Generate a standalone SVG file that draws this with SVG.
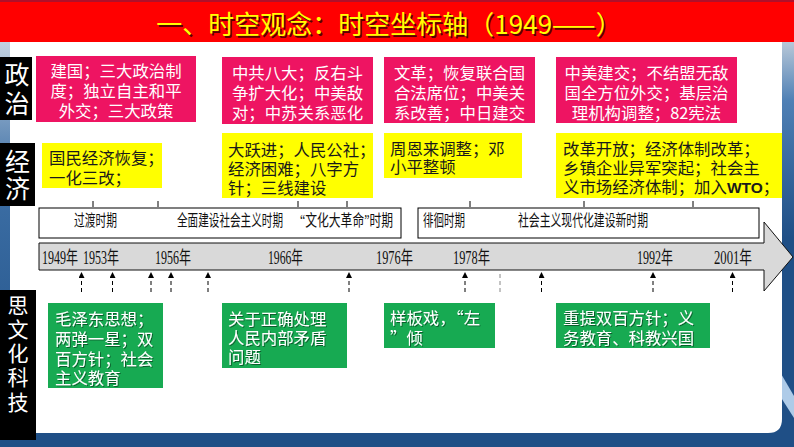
<svg xmlns="http://www.w3.org/2000/svg" width="794" height="447" viewBox="0 0 794 447">
<defs>
<style>
.cjk{font-family:"Noto Sans CJK SC","Noto Sans",sans-serif;}
.box{font-size:16.4px;}
.pink{fill:#ee1462;}
.yellow{fill:#ffff00;}
.green{fill:#17aa52;}
.wt{fill:#ffffff;}
.dk{fill:#1a1a1a;}
.lbl{fill:#000000;}
.lbltxt{fill:#ffffff;font-size:25px;text-anchor:middle;}
.serif{font-family:"Liberation Serif","Noto Sans CJK SC",serif;fill:#111;}
.per{font-size:16px;}
.yr{font-size:18px;}
.dash{stroke:#000;stroke-width:1;stroke-dasharray:4,3;fill:none;}
.tick{stroke:#000;stroke-width:1;}
</style>
<marker id="ah" markerWidth="6" markerHeight="6" refX="6" refY="3" orient="auto" markerUnits="userSpaceOnUse">
<path d="M0,0 L6,3 L0,6 z" fill="#000"/>
</marker>
<linearGradient id="lstrip" x1="0" y1="0" x2="0" y2="1">
<stop offset="0" stop-color="#c3d2e2"/>
<stop offset="0.35" stop-color="#3d6fa5"/>
<stop offset="1" stop-color="#1f4f86"/>
</linearGradient>
<linearGradient id="rstrip" x1="0" y1="0" x2="0" y2="1">
<stop offset="0" stop-color="#b8c8d8"/>
<stop offset="0.15" stop-color="#4f80b5"/>
<stop offset="0.5" stop-color="#1f4f86"/>
<stop offset="1" stop-color="#1f4f86"/>
</linearGradient>
<filter id="sh" x="-5%" y="-5%" width="110%" height="120%">
<feDropShadow dx="1" dy="1" stdDeviation="0.5" flood-color="#000" flood-opacity="0.45"/>
</filter>
</defs>

<!-- frame -->
<rect x="0" y="0" width="794" height="447" fill="#1f4f86"/>
<rect x="0" y="42" width="10" height="392" fill="url(#lstrip)"/>
<rect x="780" y="42" width="14" height="392" fill="url(#rstrip)"/>
<polygon points="780,372 794,396 794,418 780,396" fill="#aecbe8"/>
<path d="M10,42 H782 V419 Q782,433 768,433 H10 Z" fill="#ffffff"/>

<!-- title -->
<g id="title">
<rect x="0" y="0" width="794" height="42" fill="#ff0000"/>
<rect x="0" y="0" width="794" height="2" fill="#b0102a"/>
<text class="cjk" x="390.5" y="35.5" font-size="26" text-anchor="middle" fill="#5a0000">一、时空观念：时空坐标轴（1949——）</text>
<text class="cjk" x="389" y="34" font-size="26" text-anchor="middle" fill="#ffff00">一、时空观念：时空坐标轴（1949——）</text>
</g>

<!-- row labels -->
<g id="label-politics">
<rect class="lbl" x="0" y="57" width="32" height="63"/>
<text class="cjk lbltxt" x="17" y="83.5">政</text>
<text class="cjk lbltxt" x="17" y="112.5">治</text>
</g>
<g id="label-economy">
<rect class="lbl" x="0" y="143" width="35" height="63"/>
<text class="cjk lbltxt" x="17.5" y="171">经</text>
<text class="cjk lbltxt" x="17.5" y="197.5">济</text>
</g>
<g id="label-culture">
<rect class="lbl" x="0" y="290" width="36" height="150"/>
<text class="cjk lbltxt" x="18" y="313" style="font-size:21px">思</text>
<text class="cjk lbltxt" x="18" y="337" style="font-size:21px">文</text>
<text class="cjk lbltxt" x="18" y="361" style="font-size:21px">化</text>
<text class="cjk lbltxt" x="18" y="385" style="font-size:21px">科</text>
<text class="cjk lbltxt" x="18" y="410" style="font-size:21px">技</text>
</g>

<!-- politics boxes -->
<g id="pol-1">
<rect class="pink" x="36" y="56" width="160" height="66"/>
<text class="cjk box wt" text-anchor="middle"><tspan x="116" y="77">建国；三大政治制</tspan><tspan x="116" y="97">度；独立自主和平</tspan><tspan x="116" y="117">外交；三大政策</tspan></text>
</g>
<g id="pol-2">
<rect class="pink" x="222" y="57" width="151" height="67"/>
<text class="cjk box wt" text-anchor="middle"><tspan x="297.5" y="79">中共八大；反右斗</tspan><tspan x="297.5" y="99">争扩大化；中美敌</tspan><tspan x="297.5" y="119">对；中苏关系恶化</tspan></text>
</g>
<g id="pol-3">
<rect class="pink" x="384" y="57" width="151" height="66"/>
<text class="cjk box wt" text-anchor="middle"><tspan x="459.5" y="79">文革；恢复联合国</tspan><tspan x="459.5" y="99">合法席位；中美关</tspan><tspan x="459.5" y="118.5">系改善；中日建交</tspan></text>
</g>
<g id="pol-4">
<rect class="pink" x="556" y="57" width="181" height="66"/>
<text class="cjk box wt" text-anchor="middle"><tspan x="646.5" y="79">中美建交；不结盟无敌</tspan><tspan x="646.5" y="99">国全方位外交；基层治</tspan><tspan x="646.5" y="118.5">理机构调整；82宪法</tspan></text>
</g>

<!-- economy boxes -->
<g id="eco-1">
<rect class="yellow" x="42" y="143" width="120" height="45"/>
<text class="cjk box dk"><tspan x="49" y="164">国民经济恢复；</tspan><tspan x="49" y="184">一化三改；</tspan></text>
</g>
<g id="eco-2">
<rect class="yellow" x="222" y="133" width="151" height="65"/>
<text class="cjk box dk"><tspan x="228" y="156">大跃进；人民公社；</tspan><tspan x="228" y="175">经济困难；八字方</tspan><tspan x="228" y="194">针；三线建设</tspan></text>
</g>
<g id="eco-3">
<rect class="yellow" x="384" y="133" width="138" height="45"/>
<text class="cjk box dk"><tspan x="390" y="155">周恩来调整；邓</tspan><tspan x="390" y="173">小平整顿</tspan></text>
</g>
<g id="eco-4">
<rect class="yellow" x="556" y="133" width="226" height="65"/>
<text class="cjk box dk"><tspan x="563" y="155">改革开放；经济体制改革；</tspan><tspan x="563" y="174">乡镇企业异军突起；社会主</tspan><tspan x="563" y="193">义市场经济体制；加入<tspan font-family="Liberation Sans,sans-serif" font-weight="bold" font-size="15.5">WTO</tspan>；</tspan></text>
</g>

<!-- period boxes -->
<g id="period-1">
<rect x="39" y="208" width="362" height="30" fill="#fff" stroke="#000" stroke-width="1"/>
<text class="serif per" x="74" y="226" textLength="43" lengthAdjust="spacingAndGlyphs">过渡时期</text>
<text class="serif per" x="177" y="226" textLength="106" lengthAdjust="spacingAndGlyphs">全面建设社会主义时期</text>
<text class="serif per" x="300" y="226" textLength="93" lengthAdjust="spacingAndGlyphs">“文化大革命”时期</text>
</g>
<g id="period-2">
<rect x="418" y="208" width="341" height="30" fill="#fff" stroke="#000" stroke-width="1"/>
<text class="serif per" x="423" y="226" textLength="42" lengthAdjust="spacingAndGlyphs">徘徊时期</text>
<text class="serif per" x="518" y="226" textLength="130" lengthAdjust="spacingAndGlyphs">社会主义现代化建设新时期</text>
</g>

<!-- timeline arrow -->
<g id="timeline">
<polygon points="39,243 764,243 764,222 793,257 764,291 764,270 39,270" fill="#d9d9d9" stroke="#111" stroke-width="1"/>
<text class="serif yr" x="42" y="264" textLength="36" lengthAdjust="spacingAndGlyphs">1949年</text>
<text class="serif yr" x="83" y="264" textLength="36" lengthAdjust="spacingAndGlyphs">1953年</text>
<text class="serif yr" x="155" y="264" textLength="36" lengthAdjust="spacingAndGlyphs">1956年</text>
<text class="serif yr" x="268" y="264" textLength="35" lengthAdjust="spacingAndGlyphs">1966年</text>
<text class="serif yr" x="376" y="264" textLength="37" lengthAdjust="spacingAndGlyphs">1976年</text>
<text class="serif yr" x="453" y="264" textLength="37" lengthAdjust="spacingAndGlyphs">1978年</text>
<text class="serif yr" x="637" y="264" textLength="36" lengthAdjust="spacingAndGlyphs">1992年</text>
<text class="serif yr" x="714" y="264" textLength="38" lengthAdjust="spacingAndGlyphs">2001年</text>
</g>

<!-- culture boxes -->
<g id="cul-1">
<rect class="green" x="48" y="303" width="115" height="85"/>
<text class="cjk box wt" filter="url(#sh)"><tspan x="55" y="325">毛泽东思想；</tspan><tspan x="55" y="344.5">两弹一星；双</tspan><tspan x="55" y="364.5">百方针；社会</tspan><tspan x="55" y="383.5">主义教育</tspan></text>
</g>
<g id="cul-2">
<rect class="green" x="222" y="303" width="125" height="65"/>
<text class="cjk box wt" filter="url(#sh)"><tspan x="228" y="324.5">关于正确处理</tspan><tspan x="228" y="344">人民内部矛盾</tspan><tspan x="228" y="363">问题</tspan></text>
</g>
<g id="cul-3">
<rect class="green" x="384" y="303" width="111" height="45"/>
<text class="cjk box wt" filter="url(#sh)"><tspan x="390" y="324">样板戏，“左</tspan><tspan x="390" y="344">”倾</tspan></text>
</g>
<g id="cul-4">
<rect class="green" x="556" y="303" width="154" height="45"/>
<text class="cjk box wt" filter="url(#sh)"><tspan x="563" y="324">重提双百方针；义</tspan><tspan x="563" y="344">务教育、科教兴国</tspan></text>
</g>

<!-- connectors -->
<g id="connectors">
<line class="tick" x1="93" y1="201" x2="93" y2="207"/>
<line class="tick" x1="158" y1="201" x2="158" y2="207"/>
<line class="tick" x1="298" y1="201" x2="298" y2="207"/>
<line class="tick" x1="347" y1="201" x2="347" y2="207"/>
<line class="tick" x1="470" y1="201" x2="470" y2="207"/>
<line class="tick" x1="584" y1="201" x2="584" y2="207"/>
<line class="tick" x1="693" y1="201" x2="693" y2="207"/>
<line class="dash" x1="81.5" y1="292" x2="81.5" y2="272" marker-end="url(#ah)"/>
<line class="dash" x1="112.5" y1="292" x2="112.5" y2="272" marker-end="url(#ah)"/>
<line class="dash" x1="151" y1="292" x2="151" y2="272" marker-end="url(#ah)"/>
<line class="dash" x1="171" y1="292" x2="171" y2="272" marker-end="url(#ah)"/>
<line class="dash" x1="208" y1="292" x2="208" y2="272" marker-end="url(#ah)"/>
<line class="dash" x1="349" y1="292" x2="349" y2="272" marker-end="url(#ah)"/>
<line class="dash" x1="465" y1="292" x2="465" y2="272" marker-end="url(#ah)"/>
<line class="dash" x1="500" y1="292" x2="500" y2="272" style="stroke:#888"/>
<line class="dash" x1="541.5" y1="292" x2="541.5" y2="272" marker-end="url(#ah)"/>
<line class="dash" x1="653" y1="292" x2="653" y2="272" marker-end="url(#ah)"/>
<line class="dash" x1="732.5" y1="292" x2="732.5" y2="272" marker-end="url(#ah)"/>
</g>
</svg>
